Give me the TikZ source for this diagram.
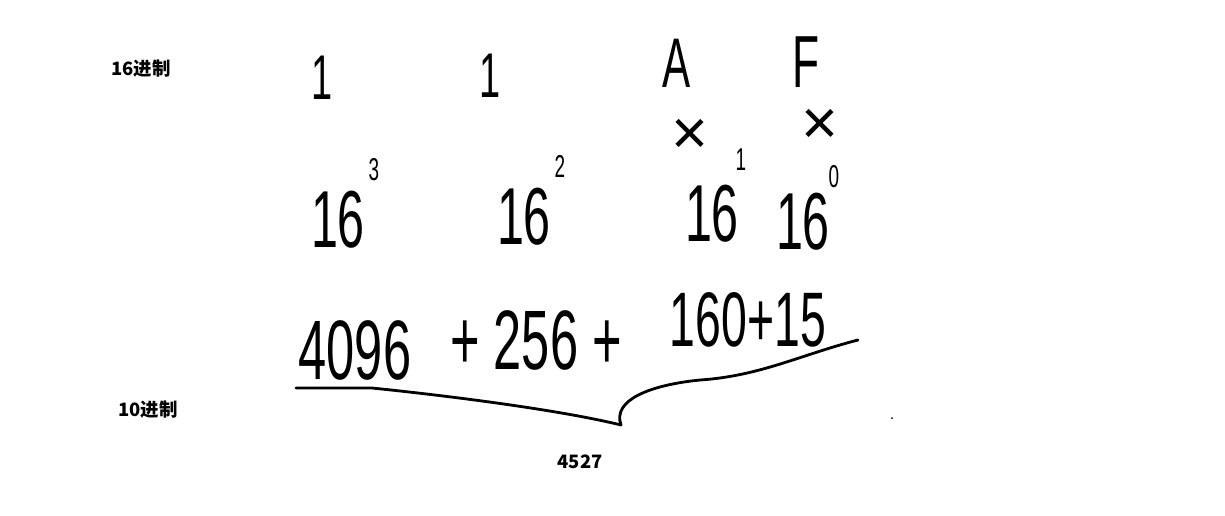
\documentclass[tikz,border=0pt]{standalone}
\usepackage{fontspec}
\setmainfont{Liberation Sans}
\newfontfamily\cjk{Noto Sans CJK SC}
\newfontfamily\hand{Liberation Sans}[FakeStretch=0.6]
\newfontfamily\handx{Liberation Sans}
\usepackage{tikz}
\usetikzlibrary{positioning}

\begin{document}
\begin{tikzpicture}[x=0.02cm, y=-0.02cm,
    label/.style={font=\cjk\bfseries\fontsize{10.5}{12}\selectfont, inner sep=0pt},
    digit/.style={font=\hand\fontsize{36}{40}\selectfont, inner sep=0pt},
    power/.style={font=\hand\fontsize{46}{50}\selectfont, inner sep=0pt},
    expo/.style={font=\hand\fontsize{18}{20}\selectfont, inner sep=0pt},
    times/.style={font=\handx\fontsize{36}{40}\selectfont, inner sep=0pt},
    sum/.style={font=\hand\fontsize{48}{52}\selectfont, inner sep=0pt},
    brace line/.style={line width=1.6pt, line cap=round, line join=round}]
  \useasboundingbox (0,0) rectangle (1225,515);

  % Labels
  \node[label] (hex) at (141,69) {16进制};
  \node[label] (dec) at (148,410) {10进制};
  \node[label] (res) at (580,462) {4527};

  % Hex digits
  \node[digit] (d3) at (322,78) {1};
  \node[digit] (d2) at (490,76) {1};
  \node[digit, font=\hand\fontsize{40}{44}\selectfont] (d1) at (677,63) {A};
  \node[digit, font=\hand\fontsize{42}{46}\selectfont] (d0) at (806,62) {F};

  % Multiply signs
  \node[times] (m1) at (690,137) {×};
  \node[times] (m0) at (820,127) {×};

  % Powers of 16
  \node[power] (b3) at (338,220) {16};
  \node[power] (b2) at (524,217) {16};
  \node[power] (b1) at (712,214) {16};
  \node[power] (b0) at (803,222) {16};
  \node[expo] (e3) at (374,170) {3};
  \node[expo] (e2) at (560,166) {2};
  \node[expo] (e1) at (741,160) {1};
  \node[expo] (e0) at (834,177) {0};

  % Sum
  \node[sum] (s1) at (355,350) {4096};
  \node[sum] (s2) at (536,340) {+\,256\,+};
  \node[sum, font=\hand\fontsize{44}{48}\selectfont] (s3) at (748,320) {160+15};

  % Brace
  \coordinate (bl) at (296,388);
  \coordinate (tip) at (621,425);
  \coordinate (br) at (858,340);
  \draw[brace line] (bl) -- (372,388)
    .. controls (450,396) and (560,410) .. (tip)
    .. controls (612,400) and (650,385) .. (700,380)
    .. controls (760,376) and (800,355) .. (br);
  \fill (892,418) circle (1);
\end{tikzpicture}
\end{document}
